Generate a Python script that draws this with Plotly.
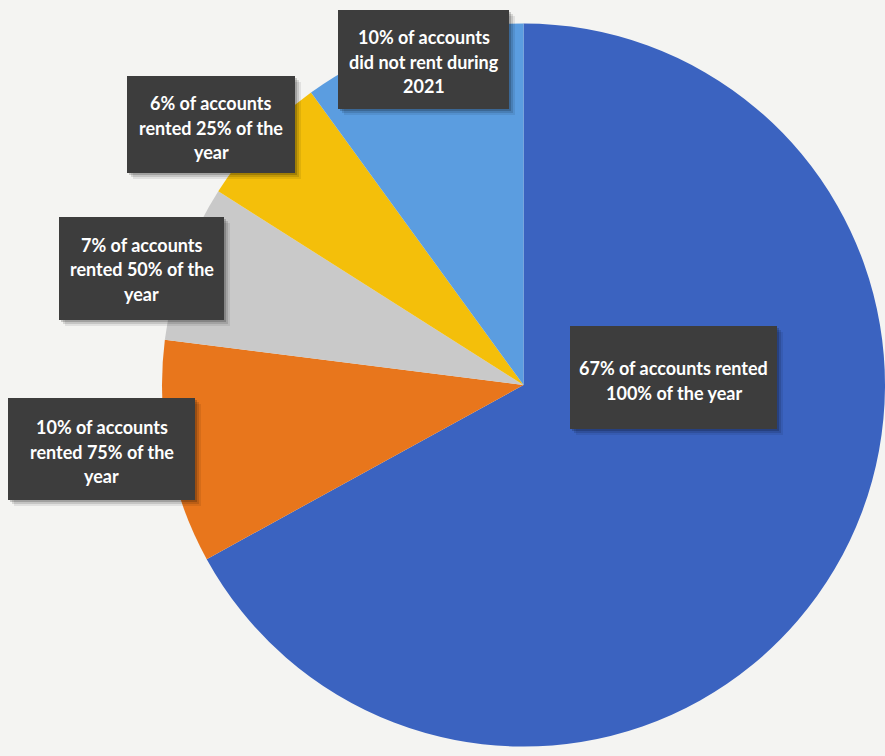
import plotly.graph_objects as go

# Share of accounts by how much of 2021 they were rented
categories = [
    "Rented 100% of the year",
    "Rented 75% of the year",
    "Rented 50% of the year",
    "Rented 25% of the year",
    "Did not rent during 2021",
]
shares = [67, 10, 7, 6, 10]
colors = ["#3b63c0", "#e8761c", "#c9c9c9", "#f4bf0a", "#5b9de0"]

# Callout text, one list of lines per category
callout_lines = [
    ["67% of accounts rented", "100% of the year"],
    ["10% of accounts", "rented 75% of the", "year"],
    ["7% of accounts", "rented 50% of the", "year"],
    ["6% of accounts", "rented 25% of the", "year"],
    ["10% of accounts", "did not rent during", "2021"],
]

W, H = 885, 756

# Callout boxes in pixel space: (x0, y0, x1, y1) and first line centre
boxes = [
    (570, 326, 777, 429),
    (8, 398, 195, 500),
    (59, 217, 224, 320),
    (127, 76, 295, 173),
    (338, 10, 509, 109),
]
first_line_y = [368, 427, 245, 103, 37]
line_step = 24.5


def px(x):
    return x / W


def py(y):
    return 1 - y / H


fig = go.Figure(
    go.Pie(
        labels=categories,
        values=shares,
        sort=False,
        direction="clockwise",
        rotation=0,
        marker=dict(colors=colors, line=dict(width=0)),
        textinfo="none",
        hoverinfo="label+percent",
        showlegend=False,
        domain=dict(x=[px(162), 1.0], y=[py(749), py(21)]),
    )
)

shapes = []
annotations = []
for (x0, y0, x1, y1), lines, ly in zip(boxes, callout_lines, first_line_y):
    # soft drop shadow
    for off, alpha in [(6, 0.08), (4, 0.12), (2, 0.18)]:
        shapes.append(dict(
            type="rect", xref="paper", yref="paper",
            x0=px(x0 + off), x1=px(x1 + off), y0=py(y1 + off), y1=py(y0 + off),
            fillcolor=f"rgba(0,0,0,{alpha})", line=dict(width=0), layer="above",
        ))
    shapes.append(dict(
        type="rect", xref="paper", yref="paper",
        x0=px(x0), x1=px(x1), y0=py(y1), y1=py(y0),
        fillcolor="#3d3d3d", line=dict(width=0), layer="above",
    ))
    cx = (x0 + x1) / 2
    for i, line in enumerate(lines):
        annotations.append(dict(
            x=px(cx), y=py(ly + i * line_step), xref="paper", yref="paper",
            text=line, showarrow=False, xanchor="center", yanchor="middle",
            font=dict(family="Lato", size=18, color="#ffffff", weight=700),
        ))

fig.update_layout(
    width=W, height=H,
    margin=dict(l=0, r=0, t=0, b=0),
    paper_bgcolor="#f4f4f2",
    plot_bgcolor="#f4f4f2",
    shapes=shapes,
    annotations=annotations,
)

fig.write_html("out.html")
